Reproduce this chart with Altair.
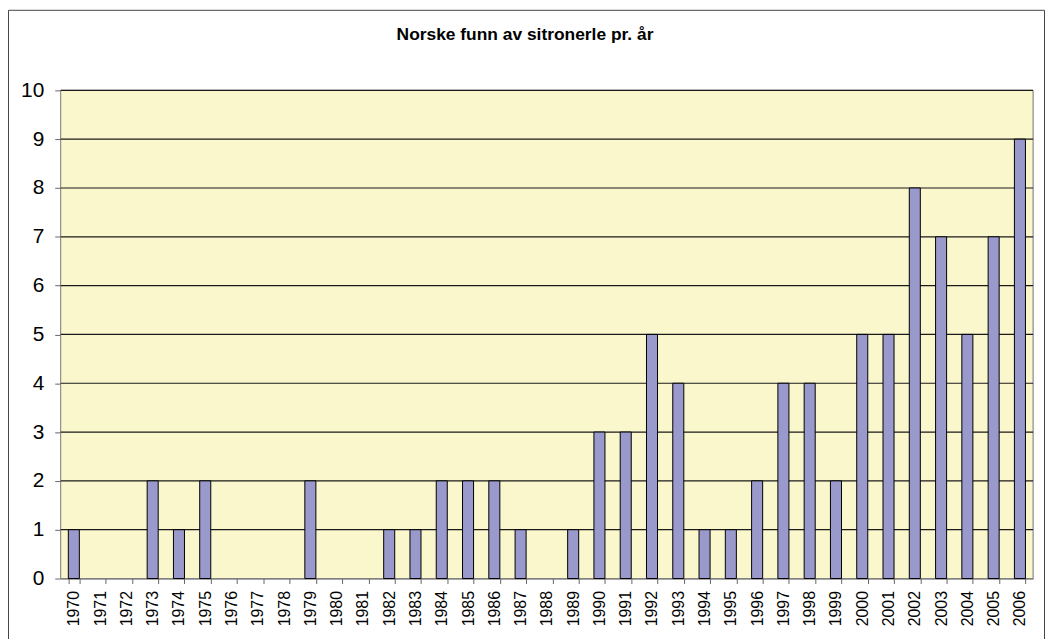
import altair as alt
import pandas as pd

years = [str(y) for y in range(1970, 2007)]
counts = [1, 0, 0, 2, 1, 2, 0, 0, 0, 2, 0, 0, 1, 1, 2, 2, 2, 1, 0, 1,
          3, 3, 5, 4, 1, 1, 2, 4, 4, 2, 5, 5, 8, 7, 5, 7, 9]
y_ticks = list(range(0, 11))
title_text = "Norske funn av sitronerle pr. år"

df = pd.DataFrame({"year": years, "count": counts})
grid_df = pd.DataFrame({"tick": y_ticks[1:]})

W, H = 978, 491
one = pd.DataFrame({"a": [0]})

yscale = alt.Scale(domain=[0, 10], nice=False)

frame = alt.Chart(one).mark_rect(
    fillOpacity=0, stroke="#444444", strokeWidth=1
).encode(
    x=alt.value(-52.5), x2=alt.value(989.5),
    y=alt.value(-80.5), y2=alt.value(620),
)

plotbg = alt.Chart(one).mark_rect(
    fill="#FAF7CC", stroke="#808080", strokeWidth=1
).encode(
    x=alt.value(0), x2=alt.value(W),
    y=alt.value(0), y2=alt.value(H),
)

grid = alt.Chart(grid_df).mark_rule(color="#1a1a1a", strokeWidth=1.2).encode(
    y=alt.Y("tick:Q", scale=yscale),
    x=alt.value(0), x2=alt.value(W),
)

title = alt.Chart(pd.DataFrame({"t": [title_text]})).mark_text(
    fontSize=17.5, fontWeight="bold", font="Liberation Sans", color="black",
    align="center", baseline="alphabetic"
).encode(text="t:N", x=alt.value(467), y=alt.value(-51))

bars = alt.Chart(df).transform_filter("datum.count > 0").mark_bar(
    fill="#9999CC", stroke="black", strokeWidth=1
).encode(
    x=alt.X("year:O", sort=years,
            scale=alt.Scale(domain=years, paddingInner=0.58, paddingOuter=0.29),
            axis=alt.Axis(title=None, labelAngle=-90, labelFontSize=16,
                          labelFont="Liberation Sans", labelColor="black",
                          tickBand="extent", tickSize=5, labelPadding=7,
                          domainColor="#666666", tickColor="#666666",
                          grid=False)),
    y=alt.Y("count:Q", scale=yscale,
            axis=alt.Axis(title=None, values=y_ticks, format="d",
                          labelFontSize=21, labelFont="Liberation Sans",
                          labelColor="black", tickSize=6, labelPadding=11,
                          domainColor="#666666", tickColor="#666666",
                          grid=False)),
)

chart = alt.layer(frame, plotbg, grid, title, bars).properties(
    width=W, height=H,
    autosize=alt.AutoSizeParams(type="none"),
    padding={"left": 53, "top": 81, "right": 12, "bottom": 59},
    background="white",
).configure_view(
    stroke=None
).configure(font="Liberation Sans")

chart.save("out.html", embed_options={"renderer": "svg", "actions": False})
